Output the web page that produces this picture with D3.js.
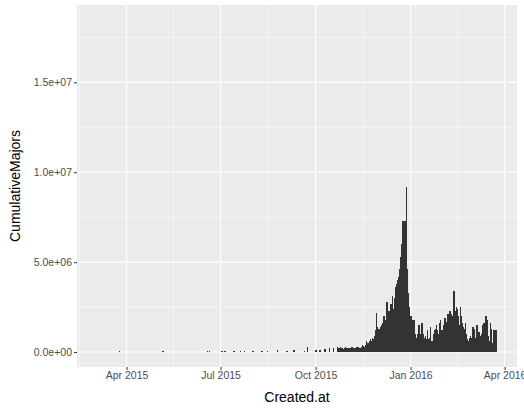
<!DOCTYPE html>
<html><head><meta charset="utf-8">
<script src="https://cdn.jsdelivr.net/npm/d3@7"></script>
<style>body{margin:0;background:#fff;overflow:hidden}</style></head>
<body><svg id="svg_id"></svg>
<script>
// sparse early values (date, value in millions)
var sparseDates = ["2015-03-25","2015-05-06","2015-06-18","2015-06-20","2015-07-02","2015-07-05","2015-07-14","2015-07-20","2015-07-24","2015-08-01","2015-08-10","2015-08-15","2015-08-25","2015-09-03","2015-09-10","2015-09-20","2015-09-23","2015-10-01","2015-10-05","2015-10-10","2015-10-14","2015-10-18"];
var sparseValues = [0.08,0.05,0.06,0.04,0.05,0.08,0.06,0.05,0.07,0.06,0.08,0.05,0.09,0.06,0.1,0.08,0.3,0.1,0.12,0.15,0.2,0.25];
// daily values from 2015-10-22, in millions
var denseStart = "2015-10-22";
var denseValues = [
0.3,0.2,0.2,0.3,0.25,0.2,0.15,0.2,0.3,0.25,0.2,0.2,0.15,0.2,0.3,0.25,0.2,0.15,0.2,0.3,0.3,0.25,0.2,0.3,0.4,0.35,0.3,0.4,0.6,0.5,
0.5,0.6,0.7,0.6,0.8,0.7,0.9,1.2,2.2,1.4,1.3,1.3,1.4,1.5,1.6,2.0,1.8,1.7,2.8,2.3,
2.0,2.3,2.7,3.1,2.4,3.0,3.6,3.8,4.0,4.2,4.6,5.3,6.0,7.3,7.3,7.3,7.3,9.2,4.6,3.3,2.5,
2.0,1.8,1.7,1.8,1.0,0.8,0.7,1.0,1.5,0.9,1.0,1.6,1.0,0.8,0.9,0.7,1.2,0.7,0.8,1.4,0.6,0.6,1.0,1.2,1.3,1.5,1.2,1.0,1.6,1.8,1.2,
1.0,1.5,1.9,1.7,1.2,2.1,1.9,2.3,2.1,1.6,2.0,3.4,2.3,2.5,2.4,2.0,1.5,2.5,2.0,1.6,1.4,1.3,1.6,1.0,0.7,0.6,0.8,0.9,0.8,
1.4,1.3,0.8,0.8,1.5,0.7,1.1,0.9,0.8,1.0,1.5,1.6,1.2,2.0,1.8,0.9,0.6,1.6,1.3,0.5,1.2,1.2,1.2,1.2];
var xTicks = ["2015-04-01","2015-07-01","2015-10-01","2016-01-01","2016-04-01"];
var xTickLabels = ["Apr 2015","Jul 2015","Oct 2015","Jan 2016","Apr 2016"];
var yTicks = [0, 5e6, 1e7, 1.5e7];
var yTickLabels = ["0.0e+00","5.0e+06","1.0e+07","1.5e+07"];

var parse = d3.utcParse("%Y-%m-%d");
var data = [];
sparseDates.forEach(function(d,i){ data.push({date: parse(d), value: sparseValues[i]*1e6}); });
var s = parse(denseStart);
denseValues.forEach(function(v,i){ data.push({date: d3.utcDay.offset(s,i), value: v*1e6}); });

var W = 524, H = 411;
var margin = {top: 5, right: 7, bottom: 44, left: 77};
var svg = d3.select("#svg_id").attr("width", W).attr("height", H);
var w = W - margin.left - margin.right, h = H - margin.top - margin.bottom;
var g = svg.append("g").attr("transform","translate("+margin.left+","+margin.top+")");

var x = d3.scaleUtc().domain([parse("2015-02-12"), parse("2016-04-13")]).range([0, w]);
var y = d3.scaleLinear().domain([-0.83e6, 19.3e6]).range([h, 0]);

g.append("rect").attr("width", w).attr("height", h).attr("fill","#ebebeb");
var xt = xTicks.map(parse);
var xMinor = [];
for (var i = 0; i < xt.length-1; i++) xMinor.push(new Date((+xt[i] + +xt[i+1])/2));
xMinor.unshift(new Date(+xt[0] - (xt[1]-xt[0])/2));
var yMinor = [2.5e6, 7.5e6, 1.25e7, 1.75e7];
g.selectAll(".gxm").data(xMinor).enter().append("line")
  .attr("x1", d=>x(d)).attr("x2", d=>x(d)).attr("y1",0).attr("y2",h).attr("stroke","#fff").attr("stroke-width",0.5);
g.selectAll(".gym").data(yMinor).enter().append("line")
  .attr("y1", d=>y(d)).attr("y2", d=>y(d)).attr("x1",0).attr("x2",w).attr("stroke","#fff").attr("stroke-width",0.5);
g.selectAll(".gx").data(xt).enter().append("line")
  .attr("x1", d=>x(d)).attr("x2", d=>x(d)).attr("y1",0).attr("y2",h).attr("stroke","#fff").attr("stroke-width",1.1);
g.selectAll(".gy").data(yTicks).enter().append("line")
  .attr("y1", d=>y(d)).attr("y2", d=>y(d)).attr("x1",0).attr("x2",w).attr("stroke","#fff").attr("stroke-width",1.1);

var bw = x(parse("2015-01-02")) - x(parse("2015-01-01"));
g.selectAll(".bar").data(data).enter().append("rect")
  .attr("x", d=>x(d.date) - bw/2).attr("width", bw + 0.4)
  .attr("y", d=>y(d.value)).attr("height", d=>y(0)-y(d.value))
  .attr("fill","#333333").attr("shape-rendering","crispEdges");

var xa = g.append("g").attr("transform","translate(0,"+h+")")
  .call(d3.axisBottom(x).tickValues(xt).tickFormat((d,i)=>xTickLabels[i]).tickSize(3).tickPadding(2));
var ya = g.append("g")
  .call(d3.axisLeft(y).tickValues(yTicks).tickFormat((d,i)=>yTickLabels[i]).tickSize(3).tickPadding(2));
[xa, ya].forEach(function(a){
  a.select(".domain").remove();
  a.selectAll("line").attr("stroke","#333");
  a.selectAll("text").attr("fill","#4d4d4d").style("font-family","Liberation Sans, Arial, sans-serif").style("font-size","10.5px");
});
svg.append("text").attr("x", margin.left + w/2).attr("y", 402).attr("text-anchor","middle")
  .style("font-family","Liberation Sans, Arial, sans-serif").style("font-size","14px").text("Created.at");
svg.append("text").attr("transform","translate(20,"+(margin.top + h/2)+") rotate(-90)").attr("text-anchor","middle")
  .style("font-family","Liberation Sans, Arial, sans-serif").style("font-size","14px").text("CumulativeMajors");
</script></body></html>
